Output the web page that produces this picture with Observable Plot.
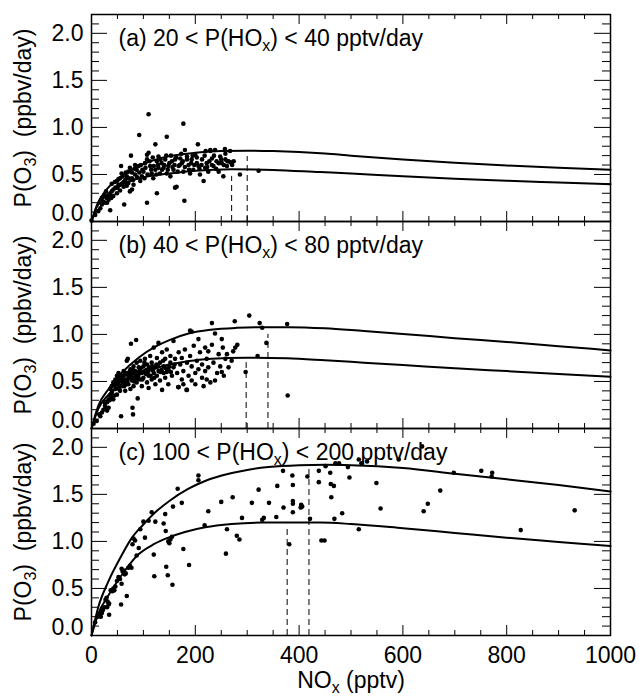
<!DOCTYPE html>
<html><head><meta charset="utf-8">
<script src="https://cdn.jsdelivr.net/npm/d3@7"></script>
<script src="https://cdn.jsdelivr.net/npm/@observablehq/plot@0.6"></script>
<style>body{margin:0;background:#fff}</style>
</head><body><div id="chart"></div>
<script>
const panels = ["a", "b", "c"];
const titles = ["(a) 20 < P(HO_x) < 40 pptv/day", "(b) 40 < P(HO_x) < 80 pptv/day", "(c) 100 < P(HO_x) < 200 pptv/day"];
const yLabelText = "P(O_3)  (ppbv/day)";
const xLabelText = "NO_x (pptv)";
const xTicks = [0, 200, 400, 600, 800, 1000];
const yTicks = [0.5, 1, 1.5, 2];
const yTickZero = [0];

// observed points (NOx pptv, P(O3) ppbv/day)
const pointsA = [
[0,0.01],[7,0.07],[13,0.11],[17,0.14],[20,0.18],[23,0.21],[26,0.2],[29,0.25],[33,0.23],[36,0.28],[36,0.12],[39,0.32],[42,0.27],[46,0.36],[49,0.3],[39,0.4],[49,0.43],[52,0.39],[55,0.46],[58,0.51],[57,0.59],[62,0.37],[65,0.44],[68,0.48],[71,0.53],[74,0.57],[71,0.41],[74,0.32],[78,0.34],[81,0.39],[78,0.46],[84,0.5],[87,0.55],[84,0.6],[91,0.59],[94,0.43],[97,0.48],[100,0.53],[103,0.62],[107,0.71],[110,0.73],[107,0.66],[113,0.59],[116,0.51],[119,0.46],[123,0.55],[126,0.64],[129,0.69],[129,0.57],[132,0.51],[135,0.62],[139,0.57],[142,0.66],[145,0.51],[148,0.59],[152,0.48],[155,0.64],[158,0.55],[161,0.36],[164,0.37],[161,0.66],[168,0.59],[171,0.67],[174,0.62],[177,0.53],[180,0.76],[184,0.69],[187,0.6],[190,0.51],[193,0.66],[196,0.55],[200,0.71],[203,0.62],[206,0.59],[209,0.5],[213,0.66],[216,0.43],[219,0.57],[222,0.62],[225,0.53],[229,0.75],[232,0.67],[235,0.59],[238,0.76],[241,0.64],[245,0.53],[248,0.69],[251,0.62],[254,0.48],[258,0.66],[261,0.59],[264,0.64],[267,0.75],[270,0.62],[274,0.64],[286,0.5],[322,0.54],
[110,1.14],[177,1.04],[92,0.92],[145,0.9],[205,0.82],[123,0.82],[76,0.7],[179,0.22],[107,0.2],[63,0.18],[126,0.3],[229,0.76],[220,0.75],[257,0.77],[268,0.63],[271,0.6],
[20,0.25],[25,0.28],[28,0.32],[30,0.2],[33,0.27],[38,0.25],[42,0.34],[45,0.42],[50,0.36],[52,0.45],[55,0.33],[58,0.4],[60,0.48],[62,0.42],[66,0.52],[68,0.38],[72,0.46],[78,0.52],[80,0.44],[83,0.56],[88,0.47],[92,0.52],[95,0.6],[98,0.55],[102,0.46],[104,0.57],[108,0.5],[112,0.64],[115,0.55],[118,0.68],[120,0.59],[125,0.5],[128,0.6],[133,0.66],[136,0.55],[140,0.6],[144,0.7],[147,0.55],[150,0.62],[153,0.7],[156,0.58],[160,0.6],[163,0.68],[166,0.53],[170,0.6],[173,0.72],[176,0.64],[180,0.58],[184,0.66],[188,0.55],[192,0.62],[195,0.7],[198,0.6],[203,0.68],[208,0.56],[212,0.6],[218,0.7],[223,0.58],[227,0.64],[232,0.6],[236,0.7],[240,0.56],[245,0.62],[250,0.66],[255,0.6],[258,0.72],[262,0.64]
];
const pointsB = [
[4,0.05],[10,0.08],[17,0.13],[20,0.17],[23,0.2],[26,0.24],[30,0.28],[30,0.19],[33,0.31],[33,0.22],[36,0.35],[36,0.42],[39,0.38],[39,0.45],[42,0.49],[42,0.31],[46,0.42],[46,0.52],[49,0.56],[49,0.36],[52,0.47],[52,0.59],[55,0.52],[55,0.4],[58,0.56],[58,0.45],[62,0.61],[62,0.49],[65,0.52],[65,0.4],[68,0.59],[68,0.72],[70,0.74],[71,0.47],[71,0.54],[75,0.63],[75,0.42],[78,0.58],[78,0.51],[81,0.66],[81,0.45],[84,0.54],[84,0.61],[87,0.7],[87,0.49],[91,0.58],[91,0.65],[94,0.52],[94,0.72],[97,0.59],[97,0.45],[100,0.66],[100,0.54],[103,0.61],[103,0.74],[107,0.49],[107,0.68],[110,0.56],[110,0.43],[113,0.63],[113,0.77],[116,0.52],[116,0.7],[120,0.59],[120,0.86],[123,0.65],[123,0.47],[126,0.75],[126,0.56],[129,0.61],[129,0.91],[132,0.7],[132,0.51],[136,0.41],[136,0.81],[139,0.59],[139,0.66],[142,0.54],[142,0.74],[145,0.84],[148,0.63],[148,0.47],[152,0.7],[152,0.77],[155,0.56],[158,0.65],[158,0.93],[161,0.74],[165,0.59],[168,0.44],[168,0.81],[171,0.68],[174,0.52],[174,0.75],[177,0.47],[177,0.61],[180,0.84],[184,0.41],[184,0.7],[187,0.56],[190,1.04],[190,0.77],[193,0.66],[193,0.51],[197,0.88],[200,0.59],[200,0.47],[203,0.72],[206,0.95],[206,0.63],[209,0.81],[213,0.54],[213,0.68],[216,0.45],[219,0.86],[219,0.61],[222,0.74],[222,0.52],[225,0.82],[225,0.65],[229,0.49],[232,1.12],[232,0.89],[235,0.7],[238,0.51],[238,1.01],[242,0.59],[245,0.79],[248,0.66],[251,0.95],[251,0.6],[253,0.86],[258,0.74],[261,0.79],[264,0.65],[270,0.72],[273,0.82],[277,0.86],[281,0.89],[255,0.56],
[304,1.2],[276,1.14],[324,1.12],[329,1.07],[377,1.11],[337,0.91],[297,0.6],[378,0.35],[57,0.13],[80,0.15],[79,0.22],[89,0.32],[76,0.9],[86,0.94],[193,1.03],[320,0.77],[183,0.41],[167,0.44],
[15,0.15],[25,0.28],[28,0.22],[35,0.3],[40,0.4],[44,0.35],[48,0.47],[53,0.42],[57,0.5],[60,0.55],[63,0.45],[66,0.58],[69,0.5],[73,0.6],[77,0.55],[82,0.5],[86,0.6],[90,0.55],[95,0.64],[99,0.6],[105,0.58],[111,0.65],[118,0.62],[125,0.68],[135,0.62],[145,0.6],[150,0.66],
[38,0.33],[45,0.46],[50,0.5],[54,0.55],[59,0.52],[64,0.57],[67,0.47],[72,0.57],[76,0.6],[80,0.62],[85,0.57],[88,0.52],[93,0.62],[98,0.52],[102,0.7],[106,0.62],[109,0.6],[114,0.56],[117,0.66],[121,0.54],[128,0.66],[133,0.6],[138,0.72],[143,0.64],[153,0.6],[160,0.68]
];
const pointsC = [
[7,0.14],[12,0.2],[15,0.22],[18,0.2],[20,0.24],[22,0.27],[25,0.3],[27,0.38],[29,0.4],[30,0.3],[31,0.36],[33,0.33],[34,0.34],[34,0.22],[37,0.48],[40,0.47],[42,0.5],[44,0.48],[46,0.52],[49,0.58],[52,0.62],[55,0.6],[57,0.33],[58,0.55],[58,0.71],[60,0.68],[62,0.69],[64,0.65],[66,0.66],[68,0.42],[71,0.72],[74,0.74],[77,0.72],[79,0.97],[81,1.03],[84,1.01],[87,0.85],[91,0.93],[94,1.13],[100,1.21],[103,1.04],[110,1.22],[116,1.31],[120,0.86],[121,0.63],[123,1.21],[139,1.19],[142,1.29],[143,1.11],[144,0.73],[147,0.64],[148,1.0],[150,0.98],[152,1.02],[155,1.05],[156,0.54],[157,1.37],[166,1.56],[174,1.41],[177,0.92],[188,0.75],[206,1.7],[206,1.65],
[218,1.17],[225,1.32],[250,1.42],[259,0.87],[261,1.13],[272,1.47],[280,1.06],[285,1.02],[290,1.25],[309,1.41],[322,1.55],[329,1.23],[332,1.25],[342,1.41],[356,1.26],[358,1.59],[369,1.75],[370,1.36],[381,0.97],[387,1.7],[388,1.6],[388,1.43],[388,1.4],[388,1.31],[403,1.36],[404,1.39],[406,1.37],[416,1.69],[421,1.24],[438,1.75],[438,1.63],[443,1.01],[449,1.01],[451,1.8],[460,1.73],[461,1.61],[462,1.47],[467,1.59],[468,1.24],[470,1.83],[477,1.83],[483,1.3],[494,1.79],[497,1.68],[515,1.13],[515,1.87],[520,1.83],[531,1.85],[549,1.62],[557,1.35],[592,1.87],[637,2.01],[640,1.32],[648,1.4],[672,1.54],[698,1.73],[751,1.75],[771,1.69],[772,1.73],[827,1.12],[931,1.33]
];

// model curves (NOx, P(O3))
const curveAUpper = [[0,0],[10,0.17],[25,0.31],[50,0.45],[75,0.54],[100,0.61],[125,0.66],[150,0.695],[200,0.73],[250,0.748],[300,0.752],[350,0.748],[400,0.738],[450,0.722],[500,0.7],[600,0.66],[700,0.625],[800,0.595],[900,0.57],[1000,0.55]];
const curveALower = [[0,0],[10,0.15],[25,0.26],[50,0.36],[75,0.43],[100,0.47],[150,0.51],[200,0.54],[270,0.556],[350,0.548],[440,0.525],[500,0.51],[600,0.48],[700,0.455],[800,0.433],[900,0.415],[1000,0.397]];
const curveBUpper = [[0,0],[13,0.24],[33,0.42],[58,0.59],[90,0.75],[123,0.87],[150,0.94],[187,1.01],[230,1.05],[280,1.07],[330,1.077],[380,1.077],[450,1.065],[525,1.035],[600,1.005],[700,0.96],[800,0.92],[900,0.875],[1000,0.83]];
const curveBLower = [[0,0],[13,0.21],[33,0.36],[58,0.47],[90,0.57],[142,0.67],[180,0.71],[219,0.735],[260,0.75],[300,0.752],[377,0.746],[450,0.725],[525,0.7],[600,0.675],[700,0.64],[800,0.61],[900,0.58],[1000,0.55]];
const curveCUpper = [[0,0],[13,0.3],[33,0.58],[55,0.82],[78,1.04],[100,1.18],[123,1.31],[150,1.43],[187,1.56],[220,1.645],[251,1.7],[300,1.76],[341,1.79],[400,1.81],[450,1.815],[500,1.81],[600,1.78],[700,1.72],[800,1.66],[900,1.6],[1000,1.53]];
const curveCLower = [[0,0],[13,0.23],[33,0.43],[58,0.64],[90,0.86],[120,0.97],[148,1.04],[180,1.1],[219,1.15],[270,1.185],[328,1.2],[400,1.2],[441,1.2],[500,1.185],[600,1.14],[700,1.09],[800,1.04],[900,0.995],[1000,0.95]];

// dashed peak markers (NOx at maximum, top of dashed line)
const peaksA = [[270,0.48],[300,0.69]];
const peaksB = [[298,0.7],[340,1.0]];
const peaksC = [[377,1.17],[419,1.77]];

// tables for the library
const toRows = (arr, panel, series) => arr.map(([x, y]) => ({panel, series, x, y}));
const dots = [...toRows(pointsA, "a"), ...toRows(pointsB, "b"), ...toRows(pointsC, "c")];
const curves = [
  ...toRows(curveAUpper, "a", "aU"), ...toRows(curveALower, "a", "aL"),
  ...toRows(curveBUpper, "b", "bU"), ...toRows(curveBLower, "b", "bL"),
  ...toRows(curveCUpper, "c", "cU"), ...toRows(curveCLower, "c", "cL")
];
const peaks = [...toRows(peaksA, "a"), ...toRows(peaksB, "b"), ...toRows(peaksC, "c")];
const titleRows = panels.map((p, i) => ({panel: p, title: titles[i]}));
const panelRows = panels.map(p => ({panel: p}));

// minor / major tick positions
const yMinor = d3.range(1, 22).map(i => i / 10).filter(v => Math.round(v * 10) % 5 !== 0);
const xMinor = d3.range(50, 1000, 50).filter(v => v % 200 !== 0);
const xMajorInner = [200, 400, 600, 800];
const xTickLen = 0.106, xMinorLen = 0.053;   // y-units
const yTickLen = 30.8, yMinorLen = 15.4;     // x-units
const yTop = 2.2;

const font = "'Liberation Sans', Arial, Helvetica, sans-serif";

const chart = Plot.plot({
  width: 639, height: 700,
  marginLeft: 91, marginRight: 29, marginTop: 13, marginBottom: 65,
  style: {fontFamily: font, fontSize: "23px", color: "black", background: "white"},
  x: {domain: [0, 1000]},
  y: {domain: [0, yTop]},
  fy: {domain: panels, padding: 0, axis: null},
  marks: [
    Plot.dot(dots, {x: "x", y: "y", fy: "panel", r: 2.3, fill: "black", stroke: "none"}),
    Plot.line(curves, {x: "x", y: "y", z: "series", fy: "panel", stroke: "black", strokeWidth: 2, curve: "monotone-x"}),
    Plot.ruleX(peaks, {x: "x", y1: 0, y2: "y", fy: "panel", stroke: "black", strokeWidth: 1, strokeDasharray: "6,4"}),
    Plot.ruleX(xMinor, {x: d => d, y1: 0, y2: xMinorLen, stroke: "black"}),
    Plot.ruleX(xMinor, {x: d => d, y1: yTop - xMinorLen, y2: yTop, stroke: "black"}),
    Plot.ruleX(xMajorInner, {x: d => d, y1: 0, y2: xTickLen, stroke: "black"}),
    Plot.ruleX(xMajorInner, {x: d => d, y1: yTop - xTickLen, y2: yTop, stroke: "black"}),
    Plot.ruleY(yMinor, {y: d => d, x1: 0, x2: yMinorLen, stroke: "black"}),
    Plot.ruleY(yMinor, {y: d => d, x1: 1000 - yMinorLen, x2: 1000, stroke: "black"}),
    Plot.ruleY(yTicks, {y: d => d, x1: 0, x2: yTickLen, stroke: "black"}),
    Plot.ruleY(yTicks, {y: d => d, x1: 1000 - yTickLen, x2: 1000, stroke: "black"}),
    Plot.frame({stroke: "black", strokeWidth: 1.5}),
    Plot.axisX({ticks: xTicks, tickSize: 0, tickPadding: 11, label: null, tickFormat: d3.format("d"), fontSize: 23}),
    Plot.axisY({ticks: yTicks, tickSize: 0, tickPadding: 8, label: null, tickFormat: d3.format(".1f"), fontSize: 23}),
    Plot.axisY({ticks: yTickZero, tickSize: 0, tickPadding: 8, label: null, tickFormat: d3.format(".1f"), fontSize: 23, dy: -8}),
    Plot.text(titleRows, {fy: "panel", text: "title", frameAnchor: "top-left", textAnchor: "start", lineAnchor: "top", dx: 27, dy: 15, fontSize: 23}),
    Plot.text(panelRows, {fy: "panel", text: () => yLabelText, frameAnchor: "left", rotate: -90, dx: -68, fontSize: 23, textAnchor: "middle"}),
    Plot.text([{panel: "c"}], {fy: "panel", text: () => xLabelText, frameAnchor: "bottom", dy: 52, fontSize: 23})
  ]
});

// subscripts: "_x" -> smaller glyph shifted down with baseline-shift (no dy, single text chunk)
const NS = "http://www.w3.org/2000/svg";
chart.querySelectorAll("text").forEach(t => {
  if (t.querySelector("tspan")) return;
  const s = t.textContent;
  if (!s.includes("_")) return;
  const parts = s.split(/_(\w)/);
  t.textContent = "";
  parts.forEach((p, i) => {
    if (p === "") return;
    const ts = document.createElementNS(NS, "tspan");
    ts.textContent = p;
    if (i % 2 === 1) { ts.setAttribute("font-size", "16"); ts.setAttribute("baseline-shift", "-5"); }
    t.appendChild(ts);
  });
});
document.getElementById("chart").appendChild(chart);
</script>
</body></html>
